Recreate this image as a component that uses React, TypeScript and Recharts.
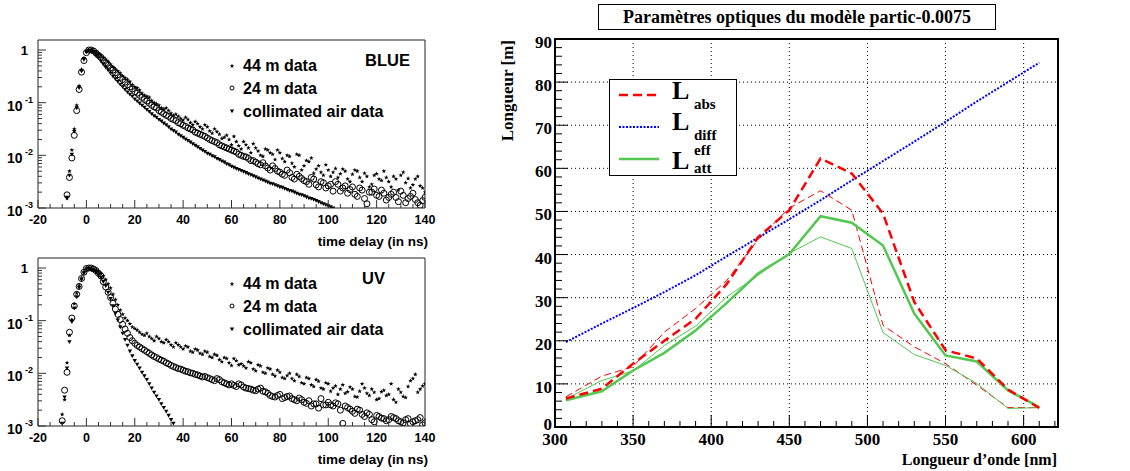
import React from 'react';
import {
  ScatterChart,
  Scatter,
  LineChart,
  Line,
  XAxis,
  YAxis,
  CartesianGrid,
  ReferenceArea,
  Legend,
} from 'recharts';

const SANS = "'Liberation Sans', Arial, Helvetica, sans-serif";
const SERIF = "'Liberation Serif', 'Times New Roman', Times, serif";

// ---- timing panels (left) : log10 of normalised amplitude per time bin ----
const TIME_NS = [
  -10, -9, -8, -7, -6, -5, -4, -3, -2, -1, 0, 1, 2, 3,
  4, 6, 8, 10, 12, 14, 16, 18, 20, 22,
  24, 26, 28, 30, 32, 34, 36, 38, 40, 42,
  44, 46, 48, 50, 52, 54, 56, 58, 60, 62,
  64, 66, 68, 70, 72, 74, 76, 78, 80, 82,
  84, 86, 88, 90, 92, 94, 96, 98, 100, 102,
  104, 106, 108, 110, 112, 114, 116, 118, 120, 122,
  124, 126, 128, 130, 132, 134, 136, 138, 140,
];
// odd bins in the tail
const TIME_ODD = [
  5, 7, 9, 11, 13, 15, 17, 19, 21, 23,
  25, 27, 29, 31, 33, 35, 37, 39, 41, 43,
  45, 47, 49, 51, 53, 55, 57, 59, 61, 63,
  65, 67, 69, 71, 73, 75, 77, 79, 81, 83,
  85, 87, 89, 91, 93, 95, 97, 99, 101, 103,
  105, 107, 109, 111, 113, 115, 117, 119, 121, 123,
  125, 127, 129, 131, 133, 135, 137, 139,
];

const BLUE_44M = [
  null, null, -2.82, -2.3, -1.9, -1.5, -1.05, -0.68, -0.37, -0.15, -0.03, 0, -0.01, -0.02,
  -0.04, -0.1, -0.18, -0.27, -0.36, -0.44, -0.53, -0.6, -0.7, -0.76,
  -0.86, -0.9, -1.0, -1.05, -1.12, -1.15, -1.24, -1.26, -1.33, -1.32,
  -1.42, -1.4, -1.5, -1.46, -1.58, -1.55, -1.68, -1.62, -1.8, -1.74,
  -1.88, -1.8, -1.95, -1.86, -2.0, -1.88, -1.95, -2.08, -1.95, -2.12,
  -2.02, -2.22, -2.0, -2.2, -2.12, -2.34, -2.2, -2.38, -2.28, -2.32,
  -2.42, -2.26, -2.45, -2.36, -2.3, -2.5, -2.4, -2.55, -2.35, -2.48,
  -2.42, -2.6, -2.45, -2.38, -2.52, -2.62, -2.45, -2.58, -2.7,
];
const BLUE_44M_ODD = [
  -0.07, -0.14, -0.22, -0.32, -0.4, -0.49, -0.56, -0.66, -0.72, -0.82,
  -0.88, -0.96, -1.02, -1.1, -1.1, -1.2, -1.22, -1.3, -1.28, -1.38,
  -1.36, -1.46, -1.42, -1.54, -1.5, -1.6, -1.66, -1.7, -1.64, -1.82,
  -1.74, -1.86, -1.78, -1.92, -2.02, -1.9, -1.98, -1.9, -2.06, -2.0,
  -2.15, -1.98, -2.28, -2.1, -2.05, -2.26, -2.32, -2.18, -2.4, -2.25,
  -2.35, -2.3, -2.5, -2.28, -2.42, -2.34, -2.6, -2.38, -2.45, -2.3,
  -2.5, -2.4, -2.66, -2.32, -2.44, -2.56, -2.4, -2.62,
];
const BLUE_24M = [
  null, null, -2.75, -2.42, -2.05, -1.62, -1.15, -0.75, -0.42, -0.2, -0.05, 0, 0, -0.02,
  -0.06, -0.14, -0.24, -0.34, -0.43, -0.52, -0.61, -0.7, -0.79, -0.86,
  -0.94, -1.01, -1.08, -1.15, -1.21, -1.26, -1.32, -1.38, -1.43, -1.48,
  -1.52, -1.58, -1.62, -1.67, -1.72, -1.76, -1.82, -1.86, -1.9, -1.94,
  -2.0, -2.03, -2.1, -2.13, -2.18, -2.2, -2.28, -2.25, -2.32, -2.38,
  -2.33, -2.45, -2.4, -2.48, -2.55, -2.45, -2.6, -2.52, -2.58, -2.68,
  -2.55, -2.62, -2.72, -2.6, -2.78, -2.66, -2.92, -2.7, -2.76, -2.66,
  -2.85, -2.74, -2.8, -2.68, -2.9, -2.78, -2.84, -2.95, -2.8,
];
const BLUE_24M_ODD = [
  -0.1, -0.19, -0.29, -0.38, -0.47, -0.56, -0.66, -0.74, -0.82, -0.9,
  -0.97, -1.05, -1.1, -1.18, -1.24, -1.3, -1.34, -1.4, -1.45, -1.5,
  -1.56, -1.6, -1.64, -1.7, -1.74, -1.8, -1.84, -1.88, -1.92, -1.98,
  -2.02, -2.06, -2.1, -2.16, -2.14, -2.24, -2.2, -2.3, -2.36, -2.28,
  -2.42, -2.36, -2.44, -2.5, -2.42, -2.56, -2.5, -2.62, -2.55, -2.5,
  -2.68, -2.58, -2.65, -2.74, -2.62, -2.82, -2.7, -2.64, -2.78, -2.72,
  -2.8, -2.7, -2.88, -2.76, -2.82, -2.72, -2.9, -2.86,
];
const BLUE_COLL = [
  null, null, -2.8, -2.38, -1.98, -1.55, -1.1, -0.72, -0.4, -0.18, -0.04, 0, -0.01, -0.04,
  -0.1, -0.21, -0.33, -0.44, -0.55, -0.65, -0.75, -0.84, -0.93, -1.01,
  -1.09, -1.17, -1.25, -1.32, -1.39, -1.46, -1.53, -1.6, -1.66, -1.72,
  -1.78, -1.84, -1.9, -1.96, -2.01, -2.06, -2.11, -2.16, -2.21, -2.25,
  -2.29, -2.33, -2.37, -2.41, -2.45, -2.49, -2.53, -2.56, -2.6, -2.63,
  -2.67, -2.7, -2.74, -2.77, -2.81, -2.84, -2.88, -2.92, -2.96, -3.0,
  null, null, null, null, null, null, null, null, null, null,
  null, null, null, null, null, null, null, null, null,
];
const BLUE_COLL_ODD = [
  -0.15, -0.27, -0.38, -0.5, -0.6, -0.7, -0.8, -0.88, -0.97, -1.05,
  -1.13, -1.21, -1.28, -1.35, -1.42, -1.5, -1.56, -1.63, -1.69, -1.75,
  -1.81, -1.87, -1.93, -1.98, -2.03, -2.08, -2.13, -2.18, -2.23, -2.27,
  -2.31, -2.35, -2.39, -2.43, -2.47, -2.51, -2.54, -2.58, -2.61, -2.65,
  -2.68, -2.72, -2.75, -2.79, -2.82, -2.86, -2.9, -2.94, -2.98, null,
  null, null, null, null, null, null, null, null, null, null,
  null, null, null, null, null, null, null, null,
];

const UV_44M = [
  -2.78, -2.5, -1.8, -1.28, -0.98, -0.68, -0.48, -0.33, -0.19, -0.07, -0.02, 0, -0.01, -0.03,
  -0.04, -0.1, -0.22, -0.38, -0.6, -0.8, -0.95, -1.06, -1.15, -1.22,
  -1.28, -1.3, -1.38, -1.34, -1.42, -1.4, -1.5, -1.46, -1.54, -1.5,
  -1.6, -1.56, -1.64, -1.6, -1.7, -1.66, -1.78, -1.72, -1.85, -1.76,
  -1.82, -1.9, -1.8, -1.95, -1.86, -2.0, -1.92, -2.05, -1.98, -2.1,
  -2.0, -2.14, -2.06, -2.2, -2.1, -2.25, -2.15, -2.3, -2.2, -2.28,
  -2.4, -2.22, -2.35, -2.3, -2.45, -2.2, -2.38, -2.3, -2.5, -2.35,
  -2.42, -2.2, -2.55, -2.36, -2.46, -2.14, -2.02, -2.3, -2.2,
];
const UV_44M_ODD = [
  -0.07, -0.15, -0.3, -0.5, -0.7, -0.88, -1.0, -1.12, -1.18, -1.26,
  -1.24, -1.34, -1.3, -1.4, -1.36, -1.46, -1.42, -1.5, -1.48, -1.58,
  -1.54, -1.62, -1.58, -1.68, -1.64, -1.74, -1.7, -1.8, -1.72, -1.84,
  -1.86, -1.78, -1.92, -1.84, -1.98, -1.9, -2.02, -1.94, -2.08, -2.04,
  -2.1, -2.02, -2.18, -2.08, -2.22, -2.12, -2.28, -2.18, -2.34, -2.24,
  -2.3, -2.38, -2.26, -2.44, -2.34, -2.28, -2.42, -2.36, -2.48, -2.32,
  -2.4, -2.5, -2.3, -2.44, -2.25, -2.1, -2.36, -2.24,
];
const UV_24M = [
  -2.9, -2.32, -1.98, -1.22, -0.95, -0.72, -0.5, -0.35, -0.2, -0.08, -0.01, 0, 0, -0.02,
  -0.05, -0.15, -0.36, -0.56, -0.78, -0.98, -1.16, -1.32, -1.43, -1.5,
  -1.56, -1.62, -1.68, -1.73, -1.77, -1.82, -1.87, -1.91, -1.94, -1.97,
  -2.0, -2.03, -2.07, -2.08, -2.12, -2.1, -2.16, -2.2, -2.2, -2.25,
  -2.22, -2.28, -2.3, -2.33, -2.28, -2.35, -2.42, -2.45, -2.4, -2.46,
  -2.43, -2.5, -2.47, -2.55, -2.52, -2.58, -2.66, -2.6, -2.55, -2.62,
  -2.58, -2.95, -2.65, -2.72, -2.68, -2.78, -2.75, -2.88, -2.8, -2.85,
  -2.9, -2.82, -2.86, -2.92, -2.88, -2.96, -2.9, -2.84, -2.94,
];
const UV_24M_ODD = [
  -0.1, -0.26, -0.46, -0.67, -0.88, -1.07, -1.24, -1.38, -1.47, -1.53,
  -1.59, -1.65, -1.7, -1.75, -1.8, -1.85, -1.89, -1.92, -1.96, -1.99,
  -2.02, -2.05, -2.06, -2.1, -2.14, -2.12, -2.18, -2.22, -2.23, -2.2,
  -2.26, -2.29, -2.32, -2.3, -2.34, -2.38, -2.44, -2.42, -2.48, -2.44,
  -2.48, -2.52, -2.5, -2.57, -2.62, -2.58, -2.48, -2.6, -2.6, -2.56,
  -2.7, -2.62, -2.68, -2.76, -2.7, -2.82, -2.78, -2.92, -2.82, -2.86,
  -2.88, -2.84, -2.9, -2.94, -2.86, -2.92, -2.88, -2.98,
];
const UV_COLL = [
  -2.95, -2.45, -1.9, -1.4, -1.02, -0.76, -0.55, -0.37, -0.22, -0.1, -0.02, 0, -0.02, -0.05,
  -0.08, -0.18, -0.34, -0.58, -0.86, -1.12, -1.36, -1.58, -1.76, -1.9,
  -2.05, -2.2, -2.36, -2.5, -2.65, -2.8, -2.95, null, null, null,
  null, null, null, null, null, null, null, null, null, null,
  null, null, null, null, null, null, null, null, null, null,
  null, null, null, null, null, null, null, null, null, null,
  null, null, null, null, null, null, null, null, null, null,
  null, null, null, null, null, null, null, null, null,
];
const UV_COLL_ODD = [
  -0.13, -0.26, -0.46, -0.72, -0.99, -1.24, -1.47, -1.67, -1.83, -1.98,
  -2.12, -2.28, -2.43, -2.58, -2.72, -2.88, null, null, null, null,
  null, null, null, null, null, null, null, null, null, null,
  null, null, null, null, null, null, null, null, null, null,
  null, null, null, null, null, null, null, null, null, null,
  null, null, null, null, null, null, null, null, null, null,
  null, null, null, null, null, null, null, null,
];

const TIME_TICKS: number[] = [];
for (let t = -20; t <= 140; t += 5) TIME_TICKS.push(t);
const LOG_DECADES = [-3, -2, -1, 0];
const LOG_MINOR = [2, 3, 4, 5, 6, 7, 8, 9];
const LOG_TICKS = [
  ...LOG_DECADES,
  ...LOG_DECADES.slice(0, 3).flatMap((d) => LOG_MINOR.map((k) => d + Math.log10(k))),
].sort((a, b) => a - b);

// ---- optical parameters (right) ----
const WAVELENGTH = [307, 330, 350, 370, 390, 410, 430, 450, 470, 490, 510, 530, 550, 570, 590, 610];
const L_ABS = [6.6, 8.9, 14.7, 20, 25.1, 33.2, 44, 50.3, 62.3, 58.8, 49.5, 29, 17.8, 15.9, 8.7, 4.4];
const L_ABS_THIN = [7, 11.8, 14, 22, 27.5, 34, 43.5, 50.8, 54.8, 50.3, 23.6, 18.6, 14.7, 9.7, 4.5, 4.5];
const L_DIFF = [19.7, 24, 27.6, 31.3, 35.2, 39.6, 43.9, 48.2, 52.6, 57.2, 61.7, 66.2, 70.8, 75.5, 80, 84.5];
const L_ATT = [6.2, 8.3, 13.1, 17.2, 22.4, 28.8, 35.6, 40.1, 48.9, 47.4, 42.1, 26.3, 16.6, 15.2, 8.5, 4.6];
const L_ATT_THIN = [6.5, 10.8, 13, 18.9, 23.4, 30.2, 35.2, 40.3, 44.1, 41.4, 21.9, 16.8, 14.3, 10.1, 4.3, 4.5];

const NM_TICKS: number[] = [];
for (let n = 300; n <= 620; n += 10) NM_TICKS.push(n);
const LEN_TICKS: number[] = [];
for (let l = 0; l <= 90; l += 2) LEN_TICKS.push(l);

const RED = '#ff0000';
const BLUE = '#0000ff';
const GREEN = '#52c852';

const optics = WAVELENGTH.map((nm, i) => ({
  nm,
  abs: L_ABS[i],
  absThin: L_ABS_THIN[i],
  diff: L_DIFF[i],
  att: L_ATT[i],
  attThin: L_ATT_THIN[i],
}));

type Vals = (number | null)[];
const toPoints = (vals: Vals, odd: Vals) =>
  [
    ...TIME_NS.map((t, i) => ({ t, v: vals[i] })),
    ...TIME_ODD.map((t, i) => ({ t, v: odd[i] })),
  ].filter((p) => p.v !== null);

// ---- markers ----
const starShape = (p: any) => {
  const pts: string[] = [];
  for (let i = 0; i < 10; i++) {
    const r = i % 2 === 0 ? 2.4 : 1;
    const a = (Math.PI / 5) * i - Math.PI / 2;
    pts.push(`${p.cx + r * Math.cos(a)},${p.cy + r * Math.sin(a)}`);
  }
  return <polygon points={pts.join(' ')} fill="#000" />;
};
const circleShape = (p: any) => (
  <circle cx={p.cx} cy={p.cy} r={3} fill="none" stroke="#000" strokeWidth={1} />
);
const triangleShape = (p: any) => (
  <path d={`M${p.cx - 2.2},${p.cy - 1.6}L${p.cx + 2.2},${p.cy - 1.6}L${p.cx},${p.cy + 2.2}Z`} fill="#000" />
);

// ---- ticks ----
const TimeTick = ({ x, y, payload }: any) => {
  const v = payload.value as number;
  const major = v % 20 === 0;
  return (
    <g>
      <line x1={x} x2={x} y1={y} y2={y - (major ? 8 : 4)} stroke="#333" />
      {major && (
        <text x={x} y={y + 16} textAnchor="middle" fontFamily={SANS} fontWeight="bold" fontSize={12.5} fill="#000">
          {v}
        </text>
      )}
    </g>
  );
};

const LogTick = ({ x, y, payload }: any) => {
  const v = payload.value as number;
  const major = Number.isInteger(v);
  return (
    <g>
      <line x1={x} x2={x + (major ? 8 : 4)} y1={y} y2={y} stroke="#333" />
      {major && v === 0 && (
        <text x={x - 10} y={y + 5} textAnchor="end" fontFamily={SANS} fontWeight="bold" fontSize={13} fill="#000">
          1
        </text>
      )}
      {major && v < 0 && (
        <text fontFamily={SANS} fontWeight="bold" fill="#000">
          <tspan x={x - 31} y={y + 8} fontSize={14}>10</tspan>
          <tspan x={x - 13} y={y} fontSize={9}>{v}</tspan>
        </text>
      )}
    </g>
  );
};

const NmTick = ({ x, y, payload }: any) => {
  const v = payload.value as number;
  const major = v % 50 === 0;
  return (
    <g>
      <line x1={x} x2={x} y1={y} y2={y - (major ? 12 : 6)} stroke="#000" />
      {major && (
        <text x={x} y={y + 18} textAnchor="middle" fontFamily={SERIF} fontWeight="bold" fontSize={17} fill="#000">
          {v}
        </text>
      )}
    </g>
  );
};

const LenTick = ({ x, y, payload }: any) => {
  const v = payload.value as number;
  const major = v % 10 === 0;
  return (
    <g>
      <line x1={x} x2={x + (major ? 13 : 7)} y1={y} y2={y} stroke="#000" />
      {major && (
        <text x={x - 3} y={y + (v === 0 ? 3 : 9)} textAnchor="end" fontFamily={SERIF} fontWeight="bold" fontSize={17} fill="#000">
          {v}
        </text>
      )}
    </g>
  );
};

// ---- axis titles (fixed spots, ignore injected label props) ----
const TimeTitle = ({ baseline }: { baseline: number }) => (
  <text x={428} y={baseline} textAnchor="end" fontFamily={SANS} fontWeight="bold" fontSize={13.5} fill="#000">
    time delay (in ns)
  </text>
);

const WavelengthTitle = () => (
  <text x={567} y={465} textAnchor="end" fontFamily={SERIF} fontWeight="bold" fontSize={16} fill="#000">
    Longueur d’onde [nm]
  </text>
);

const LengthTitle = () => (
  <text
    x={23}
    y={40}
    transform="rotate(-90, 23, 40)"
    textAnchor="end"
    fontFamily={SERIF}
    fontWeight="bold"
    fontSize={17}
    fill="#000"
  >
    Longueur [m]
  </text>
);

// ---- legends ----
const TimingLegend = ({ tag, tagX }: { tag: string; tagX: number }) => (
  <svg width={210} height={90} style={{ display: 'block', overflow: 'visible' }}>
    <g fontFamily={SANS} fontWeight="bold" fontSize={16} fill="#000">
      {starShape({ cx: 12, cy: 26 })}
      <text x={23} y={31}>44 m data</text>
      <circle cx={12} cy={48} r={2} fill="none" stroke="#000" />
      <text x={23} y={54}>24 m data</text>
      {triangleShape({ cx: 12, cy: 71 })}
      <text x={23} y={77}>collimated air data</text>
      <text x={tagX} y={26} fontSize={16.5}>{tag}</text>
    </g>
  </svg>
);

const OpticsLegend = () => (
  <svg width={128} height={97} style={{ display: 'block', overflow: 'visible' }}>
    <rect x={0.5} y={0.5} width={127} height={96} fill="#fff" stroke="#000" />
    <line x1={10} x2={50} y1={16} y2={16} stroke={RED} strokeWidth={2.5} strokeDasharray="9 5" />
    <line x1={10} x2={50} y1={48} y2={48} stroke={BLUE} strokeWidth={2} strokeDasharray="2 1.5" />
    <line x1={10} x2={50} y1={80} y2={80} stroke={GREEN} strokeWidth={2.5} />
    <g fontFamily={SERIF} fontWeight="bold" fill="#000">
      <text x={63} y={19.5} fontSize={26}>L</text>
      <text x={85} y={29.5} fontSize={15}>abs</text>
      <text x={63} y={51} fontSize={26}>L</text>
      <text x={85} y={61} fontSize={15}>diff</text>
      <text x={63} y={89.5} fontSize={26}>L</text>
      <text x={85} y={76} fontSize={15}>eff</text>
      <text x={85} y={94} fontSize={15}>att</text>
    </g>
  </svg>
);

type PanelProps = {
  top: number;
  height: number;
  plotTop: number;
  plotBottom: number;
  tag: string;
  tagX: number;
  d44: Vals;
  d44odd: Vals;
  d24: Vals;
  d24odd: Vals;
  dColl: Vals;
  dCollOdd: Vals;
};

const TimingPanel = (p: PanelProps) => (
  <div style={{ position: 'absolute', left: 0, top: p.top }}>
    <ScatterChart width={440} height={p.height} margin={{ top: p.plotTop, right: 15, bottom: 0, left: 0 }}>
      <XAxis
        type="number"
        dataKey="t"
        domain={[-20, 140]}
        ticks={TIME_TICKS}
        interval={0}
        tickSize={0}
        tickMargin={0}
        axisLine={false}
        tick={(tp: any) => <TimeTick {...tp} />}
        height={p.height - p.plotBottom}
        allowDataOverflow
        label={<TimeTitle baseline={p.plotBottom + 38} />}
      />
      <YAxis
        type="number"
        dataKey="v"
        domain={[-3, 0.19]}
        ticks={LOG_TICKS}
        interval={0}
        tickSize={0}
        tickMargin={0}
        axisLine={false}
        tick={(tp: any) => <LogTick {...tp} />}
        width={38}
        allowDataOverflow
      />
      <ReferenceArea x1={-20} x2={140} y1={-3} y2={0.19} fill="none" stroke="#222" strokeWidth={1} />
      <Scatter data={toPoints(p.dColl, p.dCollOdd)} shape={triangleShape} isAnimationActive={false} />
      <Scatter data={toPoints(p.d24, p.d24odd)} shape={circleShape} isAnimationActive={false} />
      <Scatter data={toPoints(p.d44, p.d44odd)} shape={starShape} isAnimationActive={false} />
      <Legend
        layout="vertical"
        align="center"
        verticalAlign="middle"
        content={() => <TimingLegend tag={p.tag} tagX={p.tagX} />}
        wrapperStyle={{ left: 220, top: p.plotTop, width: 210, height: 90 }}
      />
    </ScatterChart>
  </div>
);

export default function App() {
  return (
    <div style={{ position: 'absolute', left: 0, top: 0, width: 1130, height: 471, background: '#fff', overflow: 'hidden' }}>
      <TimingPanel
        top={0}
        height={250}
        plotTop={40}
        plotBottom={208}
        tag="BLUE"
        tagX={145}
        d44={BLUE_44M}
        d44odd={BLUE_44M_ODD}
        d24={BLUE_24M}
        d24odd={BLUE_24M_ODD}
        dColl={BLUE_COLL}
        dCollOdd={BLUE_COLL_ODD}
      />
      <TimingPanel
        top={230}
        height={241}
        plotTop={28}
        plotBottom={196}
        tag="UV"
        tagX={142}
        d44={UV_44M}
        d44odd={UV_44M_ODD}
        d24={UV_24M}
        d24odd={UV_24M_ODD}
        dColl={UV_COLL}
        dCollOdd={UV_COLL_ODD}
      />

      <div
        style={{
          position: 'absolute',
          left: 598,
          top: 4,
          width: 396,
          height: 24,
          border: '1px solid #000',
          fontFamily: SERIF,
          fontWeight: 'bold',
          fontSize: 18,
          lineHeight: '24px',
          textAlign: 'center',
          background: '#fff',
        }}
      >
        Paramètres optiques du modèle partic-0.0075
      </div>

      <div style={{ position: 'absolute', left: 490, top: 0 }}>
        <LineChart width={640} height={471} data={optics} margin={{ top: 39, right: 72, bottom: 0, left: 0 }}>
          <CartesianGrid
            stroke="#000"
            strokeDasharray="1 3"
            verticalValues={[350, 400, 450, 500, 550, 600]}
            horizontalValues={[10, 20, 30, 40, 50, 60, 70, 80]}
          />
          <XAxis
            type="number"
            dataKey="nm"
            domain={[300, 622]}
            ticks={NM_TICKS}
            interval={0}
            tickSize={0}
            tickMargin={0}
            axisLine={false}
            tick={(tp: any) => <NmTick {...tp} />}
            height={44}
            allowDataOverflow
            label={<WavelengthTitle />}
          />
          <YAxis
            type="number"
            domain={[0, 90]}
            ticks={LEN_TICKS}
            interval={0}
            tickSize={0}
            tickMargin={0}
            axisLine={false}
            tick={(tp: any) => <LenTick {...tp} />}
            width={65}
            allowDataOverflow
            label={<LengthTitle />}
          />
          <Line dataKey="absThin" type="linear" stroke={RED} strokeWidth={1} strokeDasharray="7 4" dot={false} isAnimationActive={false} />
          <Line dataKey="attThin" type="linear" stroke={GREEN} strokeWidth={1} dot={false} isAnimationActive={false} />
          <Line dataKey="diff" type="linear" stroke={BLUE} strokeWidth={2} strokeDasharray="2 1.5" dot={false} isAnimationActive={false} />
          <Line dataKey="att" type="linear" stroke={GREEN} strokeWidth={2.5} dot={false} isAnimationActive={false} />
          <Line dataKey="abs" type="linear" stroke={RED} strokeWidth={2.5} strokeDasharray="9 5" dot={false} isAnimationActive={false} />
          <ReferenceArea x1={300} x2={622} y1={0} y2={90} fill="none" stroke="#000" strokeWidth={2} />
          <Legend
            layout="vertical"
            align="center"
            verticalAlign="middle"
            content={() => <OpticsLegend />}
            wrapperStyle={{ left: 119, top: 79, width: 128, height: 97 }}
          />
        </LineChart>
      </div>
    </div>
  );
}
